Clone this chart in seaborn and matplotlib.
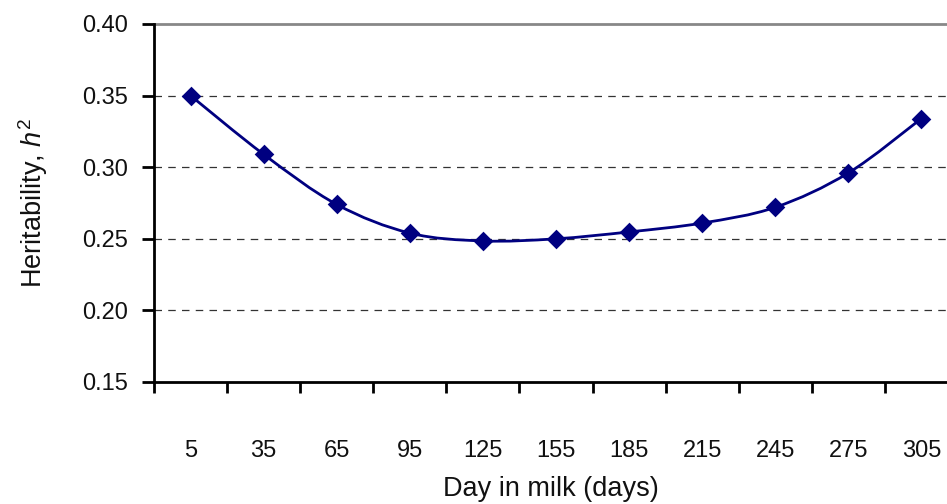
import numpy as np
import matplotlib
matplotlib.use("Agg")
import matplotlib.pyplot as plt
from matplotlib.path import Path
from matplotlib.patches import PathPatch
import seaborn as sns
import pandas as pd

days = [5, 35, 65, 95, 125, 155, 185, 215, 245, 275, 305]
heritability = [0.350, 0.309, 0.274, 0.254, 0.2485, 0.250, 0.2548, 0.261, 0.272, 0.296, 0.334]
y_ticks = [0.15, 0.20, 0.25, 0.30, 0.35, 0.40]

sns.set_style("white")
plt.rcParams['font.family'] = ['Liberation Sans', 'DejaVu Sans']
plt.rcParams['mathtext.fontset'] = 'custom'
plt.rcParams['mathtext.it'] = 'Liberation Sans:italic'
plt.rcParams['mathtext.rm'] = 'Liberation Sans'
plt.rcParams['text.color'] = '#111111'
plt.rcParams['axes.labelcolor'] = '#111111'
plt.rcParams['xtick.color'] = 'black'
plt.rcParams['ytick.color'] = 'black'

navy = '#000080'
txt = '#111111'
df = pd.DataFrame({'pos': np.arange(len(days)), 'h2': heritability})

fig = plt.figure(figsize=(9.47, 5.04), dpi=100)
ax = fig.add_axes([154 / 947, 122 / 504, 1 - 154 / 947, 358 / 504])

# smoothed line like excel (catmull-rom -> bezier through the data points)
pts = df[['pos', 'h2']].to_numpy(dtype=float)
ext = np.vstack([pts[0], pts, pts[-1]])
verts = [tuple(pts[0])]
codes = [Path.MOVETO]
for i in range(len(pts) - 1):
    p0, p1, p2, p3 = ext[i], ext[i + 1], ext[i + 2], ext[i + 3]
    c1 = p1 + (p2 - p0) / 6
    c2 = p2 - (p3 - p1) / 6
    verts += [tuple(c1), tuple(c2), tuple(p2)]
    codes += [Path.CURVE4] * 3
ax.add_patch(PathPatch(Path(verts, codes), fill=False, edgecolor=navy, lw=2, zorder=3))

sns.scatterplot(data=df, x='pos', y='h2', marker='D', s=100, color=navy,
                edgecolor=navy, linewidth=0, zorder=4, ax=ax)

ax.set_xlim(-0.5, 10.35)
ax.set_ylim(0.15, 0.40)
ax.set_yticks(y_ticks)
ax.set_yticklabels([f'{v:.2f}' for v in y_ticks], fontsize=17, color=txt)

# grid lines
for v in y_ticks[1:-1]:
    ax.axhline(v, color='#333333', lw=0.9, ls=(0, (6, 5)), zorder=1)
ax.axhline(0.40, color='#888888', lw=2, zorder=1, clip_on=False)

# category axis: ticks at boundaries, labels at centers
ax.set_xticks(np.arange(-0.5, 10.5, 1.0))
ax.set_xticklabels([])
ax.set_xticks(np.arange(len(days)), minor=True)
ax.set_xticklabels([str(d) for d in days], minor=True, fontsize=17, color=txt)
ax.tick_params(axis='x', which='major', bottom=True, direction='out', length=8, width=2, color='black')
ax.tick_params(axis='x', which='minor', bottom=True, length=0, pad=42)
ax.tick_params(axis='y', left=True, direction='out', length=9, width=2, color='black', pad=10)

for s in ['top', 'right']:
    ax.spines[s].set_visible(False)
for s in ['left', 'bottom']:
    ax.spines[s].set_color('black')
    ax.spines[s].set_linewidth(2)

ax.set_xlabel('Day in milk (days)', fontsize=19.5, labelpad=10)
ax.set_ylabel(r'Heritability, $\it{h}^{\mathregular{2}}$', fontsize=19.5, labelpad=23)

fig.savefig('out.png', dpi=100)
